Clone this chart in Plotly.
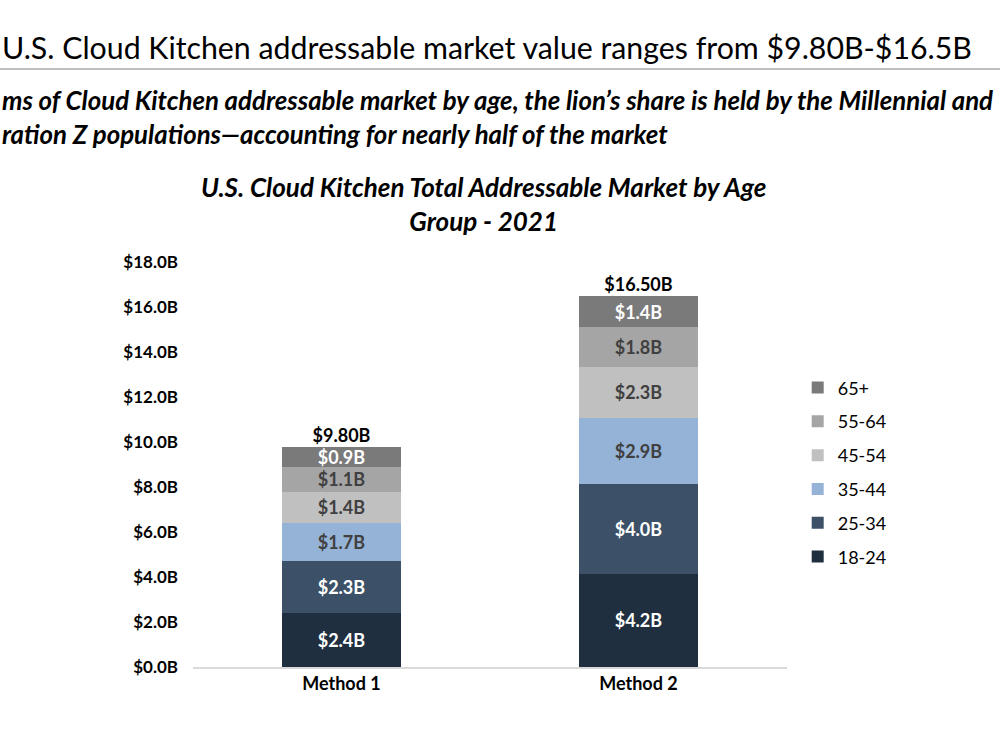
import plotly.graph_objects as go

categories = ["Method 1", "Method 2"]
age_groups = ["18-24", "25-34", "35-44", "45-54", "55-64", "65+"]
values = {
    "18-24": [2.4, 4.15],
    "25-34": [2.3, 4.0],
    "35-44": [1.7, 2.9],
    "45-54": [1.4, 2.3],
    "55-64": [1.1, 1.75],
    "65+": [0.9, 1.4],
}
totals = [9.8, 16.5]
y_ticks = [0, 2, 4, 6, 8, 10, 12, 14, 16, 18]

colors = {
    "18-24": "#1f2f3f",
    "25-34": "#3c5168",
    "35-44": "#95b3d7",
    "45-54": "#c0c0c0",
    "55-64": "#a5a5a5",
    "65+": "#7a7a7a",
}
text_colors = {
    "18-24": "white",
    "25-34": "white",
    "35-44": "#404040",
    "45-54": "#404040",
    "55-64": "#404040",
    "65+": "white",
}

FONT = "Lato, sans-serif"

fig = go.Figure()
for i, g in enumerate(age_groups):
    fig.add_trace(go.Bar(
        x=categories, y=values[g], name=g, legendgroup=g,
        legendrank=100 - i,
        marker=dict(color=colors[g], line=dict(width=0)),
        texttemplate="<b>$%{y:.1f}B</b>",
        textposition="inside", insidetextanchor="middle",
        textfont=dict(color=text_colors[g], size=18, family=FONT),
        constraintext="none",
        width=0.4,
    ))

fig.add_trace(go.Scatter(
    x=categories, y=totals, mode="text",
    text=[f"<b>${t:.2f}B</b>" for t in totals],
    textposition="top center",
    textfont=dict(size=18, color="#000000", family=FONT),
    showlegend=False, hoverinfo="skip",
))

fig.update_layout(
    barmode="stack",
    width=1000, height=750,
    margin=dict(l=193, r=213, t=262, b=83),
    paper_bgcolor="white", plot_bgcolor="white",
    font=dict(family=FONT, color="#000000"),
    showlegend=True,
    legend=dict(
        traceorder="grouped",
        x=1.018, xanchor="left", y=0.735, yanchor="top",
        font=dict(size=18, family=FONT, color="#000000"),
        itemwidth=30, tracegroupgap=7.4,
        bgcolor="rgba(0,0,0,0)",
    ),
    xaxis=dict(
        showline=True, linecolor="#d9d9d9", linewidth=1.5,
        ticks="", tickfont=dict(size=18, family=FONT),
        range=[-0.5, 1.5], showgrid=False,
    ),
    yaxis=dict(
        range=[0, 18], tickvals=y_ticks,
        ticktext=[f"<b>${v:.1f}B</b>" for v in y_ticks],
        showgrid=False, zeroline=False, showline=False,
        tickfont=dict(size=17, family=FONT), ticklabelstandoff=14,
    ),
)

fig.update_xaxes(ticktext=[f"<b>{c}</b>" for c in categories], tickvals=categories)

def py(pix):
    return 1 + (262 - pix) / 405

X0 = -193 / 594

# Header
fig.add_annotation(
    text="U.S. Cloud Kitchen addressable market value ranges from $9.80B-$16.5B",
    xref="paper", yref="paper", x=X0, y=py(47),
    xanchor="left", yanchor="middle", showarrow=False,
    font=dict(size=30.3, family=FONT, color="#000000"),
)
fig.add_shape(
    type="line", xref="paper", yref="paper",
    x0=X0, x1=(1000 - 193) / 594,
    y0=py(69), y1=py(69),
    line=dict(color="#bfbfbf", width=2),
)
fig.add_annotation(
    text="<b><i>ms of Cloud Kitchen addressable market by age, the lion’s share is held by the Millennial and</i></b><br>"
         "<b><i>ration Z populations—accounting for nearly half of the market</i></b>",
    xref="paper", yref="paper", x=X0, y=py(117),
    xanchor="left", yanchor="middle", align="left", showarrow=False,
    font=dict(size=25.8, family=FONT, color="#000000"),
)
fig.add_annotation(
    text="<b><i>U.S. Cloud Kitchen Total Addressable Market by Age</i></b><br><b><i>Group - 2021</i></b>",
    xref="paper", yref="paper", x=(483 - 193) / 594, y=py(204),
    xanchor="center", yanchor="middle", align="center", showarrow=False,
    font=dict(size=26, family=FONT, color="#000000"),
)

fig.write_html("out.html")
